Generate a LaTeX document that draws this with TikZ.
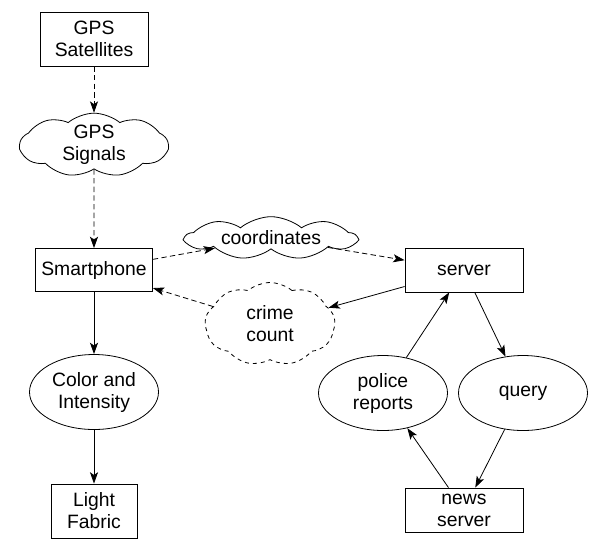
\documentclass[tikz,border=0pt]{standalone}
\usepackage{fontspec}
\setmainfont{Liberation Sans}
\usetikzlibrary{arrows.meta,shapes.geometric,shapes.symbols}

\begin{document}
\begin{tikzpicture}[->,>={Stealth[length=8.5pt,width=6pt,inset=2pt]},x=0.75pt,y=-0.75pt,
  semithick,box node/.style={rectangle,draw,align=center,inner sep=0pt,font=\fontsize{14.5}{16.5}\selectfont},
        oval node/.style={ellipse,draw,align=center,inner sep=0pt,minimum width=96.75pt,minimum height=56.25pt,font=\fontsize{14.5}{16.5}\selectfont},
        cloud node/.style={cloud,draw,cloud puffs=9,cloud puff arc=80,cloud ignores aspect,align=center,inner sep=0pt,font=\fontsize{14.5}{16.5}\selectfont}]
  \useasboundingbox (0,0) rectangle (600,551);
  \node[box node,minimum width=81pt,minimum height=40.5pt] (1) at (94,39) {GPS\\Satellites};
  \node[cloud node,minimum width=111pt,minimum height=40.5pt] (2) at (94,145) {GPS\\Signals};
  \node[box node,minimum width=87.75pt,minimum height=32.25pt] (3) at (94,270) {Smartphone};
  \node[oval node] (4) at (94,392) {Color and\\Intensity};
  \node[box node,minimum width=64.5pt,minimum height=40.5pt] (5) at (94,511) {Light\\Fabric};
  \node[cloud node,minimum width=128pt,minimum height=32pt] (6) at (271,238) {coordinates};
  \node[cloud node,dashed,minimum width=97.5pt,minimum height=62.25pt] (7) at (270,324) {crime\\count};
  \node[box node,minimum width=88.5pt,minimum height=33pt] (8) at (464,270) {server};
  \node[oval node] (9) at (383,393) {police\\reports};
  \node[oval node] (10) at (523,393) {query};
  \node[box node,minimum width=88.5pt,minimum height=33pt] (11) at (464,510) {news\\server};

  \path[dashed,dash pattern=on 4pt off 2.5pt]
    (1) edge (2)
    (2) edge (3)
    (3) edge (6)
    (6) edge (8)
    (7) edge (3);
  \path
    (8) edge (7)
    (3) edge (4)
    (4) edge (5)
    (9) edge (8)
    (8) edge (10)
    (10) edge (11)
    (11) edge (9);
\end{tikzpicture}
\end{document}
